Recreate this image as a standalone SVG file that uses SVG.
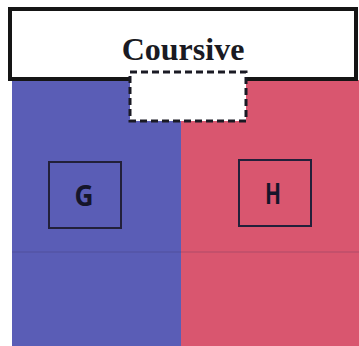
<svg xmlns="http://www.w3.org/2000/svg" width="359" height="346" viewBox="0 0 359 346">
<style>
.lbl{font-family:"Open Sans","DejaVu Sans",sans-serif;font-weight:bold;font-size:29px;fill:#15152a;text-anchor:middle}
.box{fill:none;stroke:#22203a;stroke-width:2}
</style>
<rect x="0" y="0" width="359" height="346" fill="#ffffff"/>
<g id="left-region"><rect x="12" y="80" width="170" height="266" fill="#5a5db6"/></g>
<g id="right-region"><rect x="181" y="80" width="178" height="266" fill="#d9566f"/></g>
<line x1="12" y1="252" x2="359" y2="252" stroke="#3a2a50" stroke-opacity="0.25" stroke-width="1"/>
<g id="header">
<rect x="10" y="9" width="346" height="70" fill="#ffffff" stroke="#151515" stroke-width="4"/>
<text x="183" y="60" font-family="Liberation Serif,serif" font-weight="bold" font-size="32" fill="#1a1a22" text-anchor="middle">Coursive</text>
</g>
<g id="slot"><rect x="130" y="72" width="116" height="49" fill="#ffffff" stroke="#1a1a24" stroke-width="3" stroke-dasharray="7,4"/></g>
<g id="G"><rect class="box" x="49" y="162" width="72" height="66"/><text class="lbl" x="84" y="206" textLength="19" lengthAdjust="spacingAndGlyphs">G</text></g>
<g id="H"><rect class="box" x="239" y="160" width="72" height="66"/><text class="lbl" x="273" y="204" textLength="16" lengthAdjust="spacingAndGlyphs">H</text></g>
</svg>
